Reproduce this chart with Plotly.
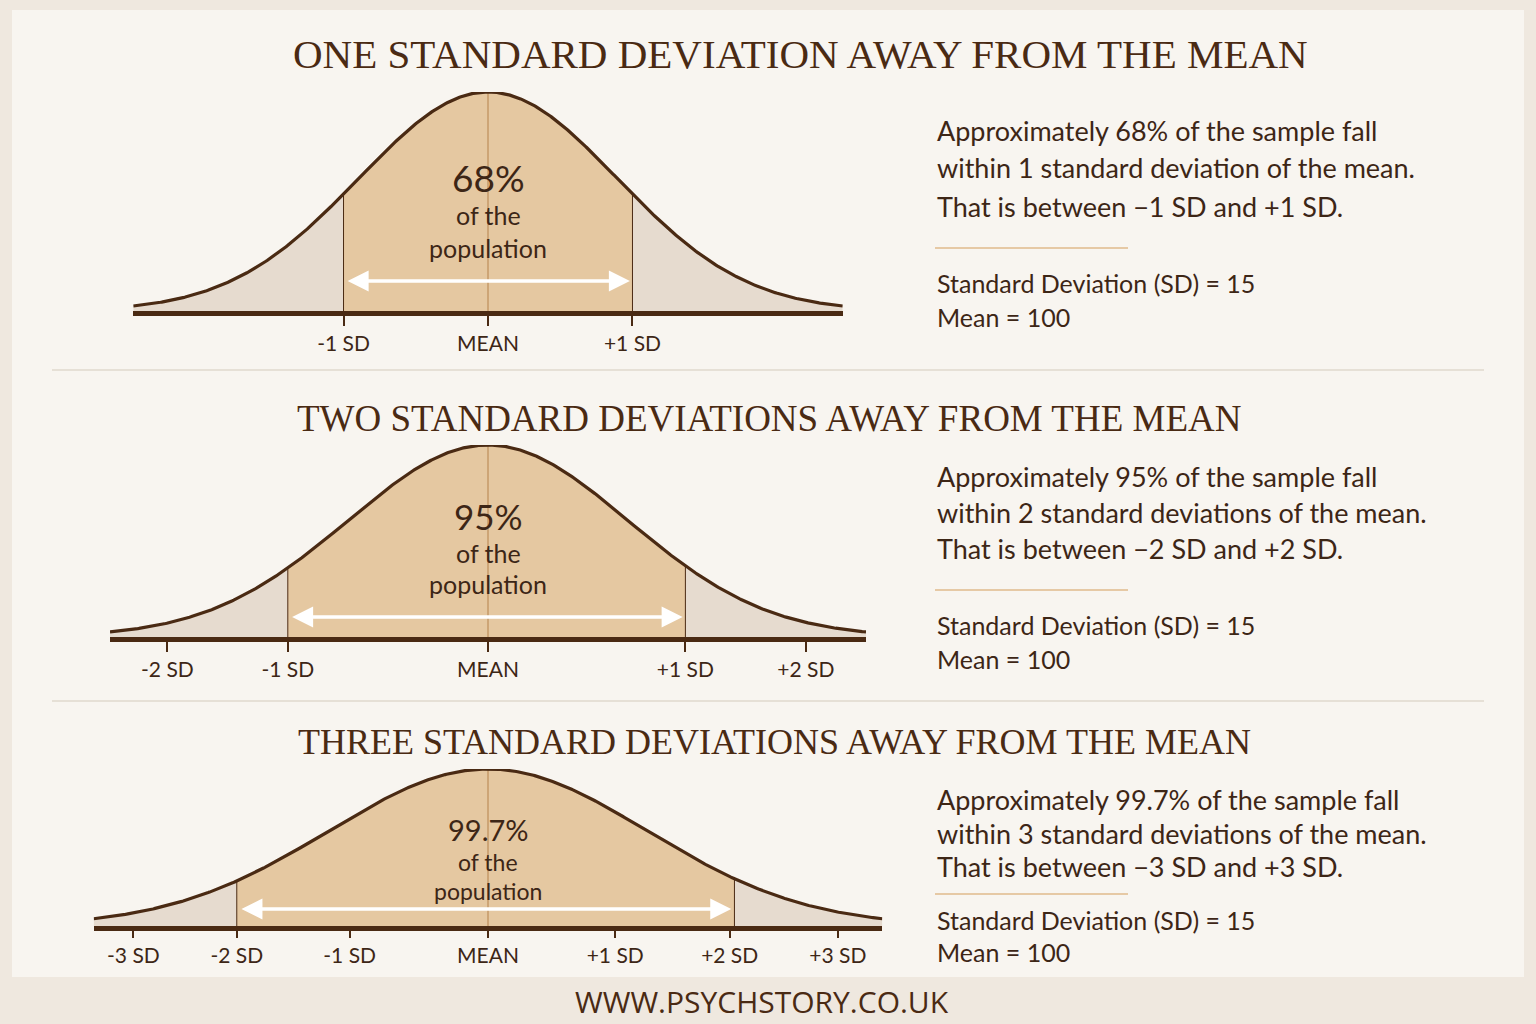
import numpy as np
import plotly.graph_objects as go

W, H = 1536, 1024

# ---------------- data ----------------
titles = ["ONE STANDARD DEVIATION AWAY FROM THE MEAN",
          "TWO STANDARD DEVIATIONS AWAY FROM THE MEAN",
          "THREE STANDARD DEVIATIONS AWAY FROM THE MEAN"]
percent_labels = ["68%", "95%", "99.7%"]
sd_value = 15
mean_value = 100
# x positions are in units of each drawn curve's own standard deviation
curve_extent = [2.75, 2.70, 2.48]
shade_lo = [-1.12, -1.43, -1.58]
shade_hi = [1.12, 1.41, 1.55]
tick_pos_1 = [-1.12, 0.0, 1.12]
tick_lab_1 = ["-1 SD", "MEAN", "+1 SD"]
tick_pos_2 = [-2.29, -1.43, 0.0, 1.41, 2.27]
tick_lab_2 = ["-2 SD", "-1 SD", "MEAN", "+1 SD", "+2 SD"]
tick_pos_3 = [-2.23, -1.58, -0.87, 0.0, 0.80, 1.52, 2.20]
tick_lab_3 = ["-3 SD", "-2 SD", "-1 SD", "MEAN", "+1 SD", "+2 SD", "+3 SD"]
tick_pos = [tick_pos_1, tick_pos_2, tick_pos_3]
tick_lab = [tick_lab_1, tick_lab_2, tick_lab_3]
desc_lines = [
    ["Approximately 68% of the sample fall",
     "within 1 standard deviation of the mean.",
     "That is between \u22121 SD and +1 SD."],
    ["Approximately 95% of the sample fall",
     "within 2 standard deviations of the mean.",
     "That is between \u22122 SD and +2 SD."],
    ["Approximately 99.7% of the sample fall",
     "within 3 standard deviations of the mean.",
     "That is between \u22123 SD and +3 SD."],
]
footer = "WWW.PSYCHSTORY.CO.UK"

# ---------------- layout constants (pixels) ----------------
center_px = [488, 488, 488]
sigma_px = [129, 140, 159]
base_px = [311, 637, 926]
peak_px = [92, 445, 769]
title_y = [54, 418, 742]
title_x = [800, 769, 774]
title_size = [41, 37, 36]
tick_len = [10, 10, 7]
pct_size = [37, 35, 29]
sub_size = [25, 25, 23]
pct_y = [177, 516, 829]
ofthe_y = [215, 553, 862]
pop_y = [248, 584, 891]
arrow_y = [281, 617, 909]
desc_y = [[130, 167, 206], [476, 512, 548], [799, 833, 866]]
rule_y = [248, 590, 894]
sdline_y = [283, 625, 920]
meanline_y = [317, 659, 952]

DARK = "#4a2a13"
TEXT = "#3d2616"
CENTER = "#e5c8a1"
TAIL = "#e6dbcf"
MEANLINE = "#c49a68"

def px(x):
    return x / W

def py(y):
    return 1 - y / H

fig = go.Figure()
shapes = []
annotations = []

# card background
shapes.append(dict(type="rect", xref="paper", yref="paper", x0=px(12), x1=px(1524),
                   y0=py(977), y1=py(10), fillcolor="#f8f5f0", line=dict(width=0), layer="below"))
for sy in [370, 701]:
    shapes.append(dict(type="line", xref="paper", yref="paper", x0=px(52), x1=px(1484),
                       y0=py(sy), y1=py(sy), line=dict(color="#e1d8ce", width=1.5), layer="below"))

for i in range(3):
    n = i + 1
    xa = "x" if n == 1 else f"x{n}"
    ya = "y" if n == 1 else f"y{n}"
    ext = curve_extent[i]
    z = np.linspace(-ext, ext, 600)
    f = np.exp(-z ** 2 / 2)
    lo, hi = shade_lo[i], shade_hi[i]

    def seg(a, b):
        zz = np.linspace(a, b, 200)
        return zz, np.exp(-zz ** 2 / 2)

    for (a, b, col) in [(-ext, lo, TAIL), (hi, ext, TAIL), (lo, hi, CENTER)]:
        zz, ff = seg(a, b)
        fig.add_trace(go.Scatter(x=zz, y=ff, mode="lines", line=dict(width=0),
                                 fill="tozeroy", fillcolor=col, hoverinfo="skip",
                                 showlegend=False, xaxis=xa, yaxis=ya))
    # mean line
    fig.add_trace(go.Scatter(x=[0, 0], y=[0, 1], mode="lines",
                             line=dict(color=MEANLINE, width=1.5), hoverinfo="skip",
                             showlegend=False, xaxis=xa, yaxis=ya, cliponaxis=False))
    # boundary lines
    for b in (lo, hi):
        fig.add_trace(go.Scatter(x=[b, b], y=[0, np.exp(-b ** 2 / 2)], mode="lines",
                                 line=dict(color=DARK, width=1), hoverinfo="skip",
                                 showlegend=False, xaxis=xa, yaxis=ya, cliponaxis=False))
    # curve
    fig.add_trace(go.Scatter(x=z, y=f, mode="lines", line=dict(color=DARK, width=3.2),
                             hoverinfo="skip", showlegend=False, xaxis=xa, yaxis=ya,
                             cliponaxis=False))

    # axes
    x0p = center_px[i] - ext * sigma_px[i]
    x1p = center_px[i] + ext * sigma_px[i]
    xkey = "xaxis" if n == 1 else f"xaxis{n}"
    ykey = "yaxis" if n == 1 else f"yaxis{n}"
    fig.layout[xkey] = dict(domain=[px(x0p), px(x1p)], range=[-ext, ext], anchor=ya,
                            tickvals=tick_pos[i], ticktext=tick_lab[i], ticks="outside",
                            ticklen=tick_len[i], tickwidth=1.5, tickcolor=DARK, showline=True,
                            linecolor=DARK, linewidth=4.5, showgrid=False, zeroline=False,
                            tickfont=dict(family="Lato", size=21, color=TEXT),
                            fixedrange=True)
    fig.layout[ykey] = dict(domain=[py(base_px[i]), py(peak_px[i])], range=[0, 1],
                            anchor=xa, visible=False, showgrid=False, zeroline=False,
                            fixedrange=True)

    # arrow
    ay_val = (base_px[i] - arrow_y[i]) / (base_px[i] - peak_px[i])
    annotations.append(dict(x=hi - 0.02, y=ay_val, ax=lo + 0.02, ay=ay_val,
                            xref=xa, yref=ya, axref=xa, ayref=ya, text="",
                            showarrow=True, arrowhead=2, arrowside="end+start",
                            arrowsize=1.2, arrowwidth=3.5, arrowcolor="#ffffff"))
    # centre text
    annotations.append(dict(x=0, y=py(pct_y[i]), xref=xa, yref="paper", text=percent_labels[i],
                            showarrow=False, font=dict(family="Lato", size=pct_size[i], color=TEXT),
                            xanchor="center", yanchor="middle"))
    annotations.append(dict(x=0, y=py(ofthe_y[i]), xref=xa, yref="paper", text="of the",
                            showarrow=False, font=dict(family="Lato", size=sub_size[i], color=TEXT),
                            xanchor="center", yanchor="middle"))
    annotations.append(dict(x=0, y=py(pop_y[i]), xref=xa, yref="paper", text="population",
                            showarrow=False, font=dict(family="Lato", size=sub_size[i], color=TEXT),
                            xanchor="center", yanchor="middle"))
    # title
    annotations.append(dict(x=px(title_x[i]), y=py(title_y[i]), xref="paper", yref="paper",
                            text=titles[i], showarrow=False,
                            font=dict(family="Liberation Serif", size=title_size[i], color=DARK),
                            xanchor="center", yanchor="middle"))
    # description
    for line, yy in zip(desc_lines[i], desc_y[i]):
        annotations.append(dict(x=px(935), y=py(yy), xref="paper", yref="paper", text=line,
                                showarrow=False, font=dict(family="Lato", size=27, color=TEXT),
                                xanchor="left", yanchor="middle"))
    shapes.append(dict(type="line", xref="paper", yref="paper", x0=px(935), x1=px(1128),
                       y0=py(rule_y[i]), y1=py(rule_y[i]), line=dict(color="#e6c9a5", width=2)))
    annotations.append(dict(x=px(935), y=py(sdline_y[i]), xref="paper", yref="paper",
                            text=f"Standard Deviation (SD) = {sd_value}", showarrow=False,
                            font=dict(family="Lato", size=25, color=TEXT),
                            xanchor="left", yanchor="middle"))
    annotations.append(dict(x=px(935), y=py(meanline_y[i]), xref="paper", yref="paper",
                            text=f"Mean = {mean_value}", showarrow=False,
                            font=dict(family="Lato", size=25, color=TEXT),
                            xanchor="left", yanchor="middle"))

annotations.append(dict(x=px(762), y=py(1001), xref="paper", yref="paper", text=footer,
                        showarrow=False, font=dict(family="Open Sans", size=30, color=DARK),
                        xanchor="center", yanchor="middle"))

fig.update_layout(width=W, height=H, margin=dict(l=0, r=0, t=0, b=0),
                  paper_bgcolor="#efe8df", plot_bgcolor="rgba(0,0,0,0)",
                  shapes=shapes, annotations=annotations, showlegend=False)

fig.write_html("out.html", config={"displayModeBar": False})
